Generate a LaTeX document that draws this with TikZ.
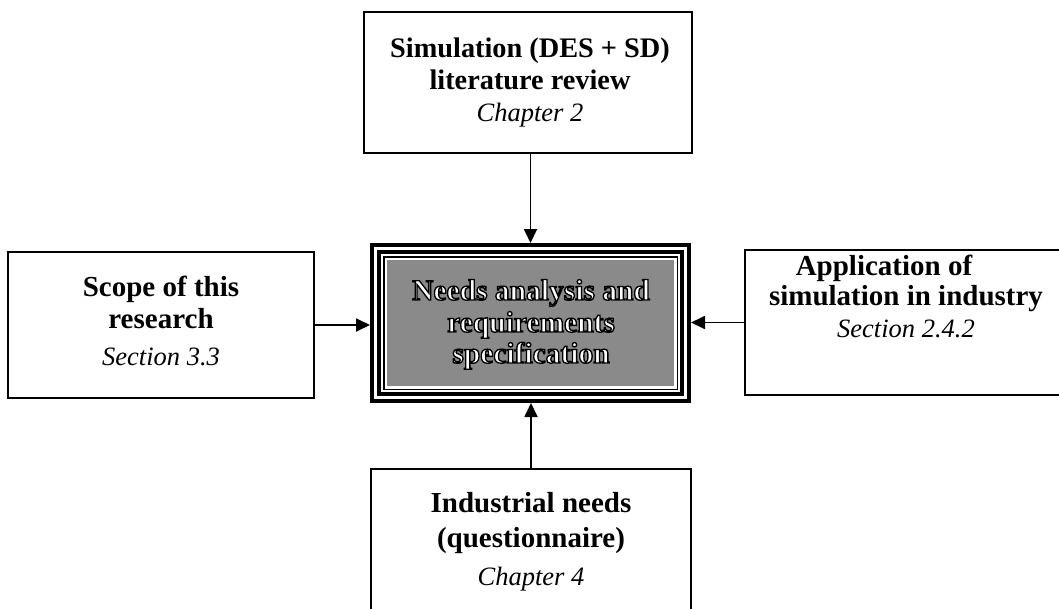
\documentclass[tikz,border=0pt]{standalone}
\usepackage{fontspec}
\setmainfont{Liberation Serif}
\newfontfamily\hubfont{Liberation Serif}[UprightFont=*-Bold, FakeBold=4.5]
\usetikzlibrary{arrows.meta}
% white letters with a black stroked edge
\newcommand{\outlined}[1]{\special{pdf:bcolor [1] [0]}#1\special{pdf:ecolor}}

\begin{document}
\begin{tikzpicture}[x=1pt,y=-1pt,
  box/.style={draw, line width=1.5pt, inner sep=0pt},
  title/.style={font=\fontsize{29}{32}\selectfont\bfseries, anchor=base, inner sep=0pt},
  ref/.style={font=\fontsize{26.5}{30}\selectfont\itshape, anchor=base, inner sep=0pt},
  feed/.style={line width=1.8pt, -{Triangle[length=14pt,width=13pt]}},
  hubtext/.style={font=\fontsize{29.5}{32}\selectfont\hubfont, anchor=base, inner sep=0pt},
]
\clip (0,0) rectangle (1059,608);
\fill[white] (0,0) rectangle (1059,608);

% surrounding input boxes
\node[box, minimum width=328, minimum height=141] (tbox) at (528,82.5) {};
\node[box, minimum width=306, minimum height=146] (lbox) at (161,325) {};
\node[box, minimum width=322, minimum height=145] (rbox) at (906,322.5) {};
\node[box, minimum width=320, minimum height=146] (bbox) at (531,542) {};

% central box: heavy outer frame, two inner frames, grey field
\node[draw, line width=4pt, minimum width=317, minimum height=156] (hub) at (530.5,323) {};
\fill[black!46] ([shift={(17,17)}]hub.north west) rectangle ([shift={(-17,-17)}]hub.south east);
\draw[line width=4pt] ([shift={(9,9)}]hub.north west) rectangle ([shift={(-9,-9)}]hub.south east);
\draw[line width=1.5pt] ([shift={(13.75,13.75)}]hub.north west) rectangle ([shift={(-13.75,-13.75)}]hub.south east);
\node[hubtext] (hub1) at (531,300) {\outlined{Needs analysis and}};
\node[hubtext] (hub2) at (531,332) {\outlined{requirements}};
\node[hubtext] (hub3) at (531,363) {\outlined{specification}};

% box texts
\node[title, font=\fontsize{28.3}{32}\selectfont\bfseries] (t1) at (530,57) {Simulation (DES + SD)};
\node[title, font=\fontsize{28.3}{32}\selectfont\bfseries] (t2) at (530,89) {literature review};
\node[ref] (t3) at (530,121) {Chapter 2};

\node[title] (l1) at (161,296) {Scope of this};
\node[title] (l2) at (161,328) {research};
\node[ref] (l3) at (161,365) {Section 3.3};

\node[title] (r1) at (884,275) {Application of};
\node[title] (r2) at (906,305) {simulation in industry};
\node[ref] (r3) at (906,337) {Section 2.4.2};

\node[title] (b1) at (531,512) {Industrial needs};
\node[title] (b2) at (531,547) {(questionnaire)};
\node[ref] (b3) at (531,585) {Chapter 4};

% connectors into the central box
\draw[feed] (hub.north |- tbox.south) -- (hub.north);
\draw[feed] (lbox.east) -- (lbox.east -| hub.west);
\draw[feed] (rbox.west) -- (rbox.west -| hub.east);
\draw[feed] (bbox.north) -- (bbox.north |- hub.south);
\end{tikzpicture}
\end{document}
